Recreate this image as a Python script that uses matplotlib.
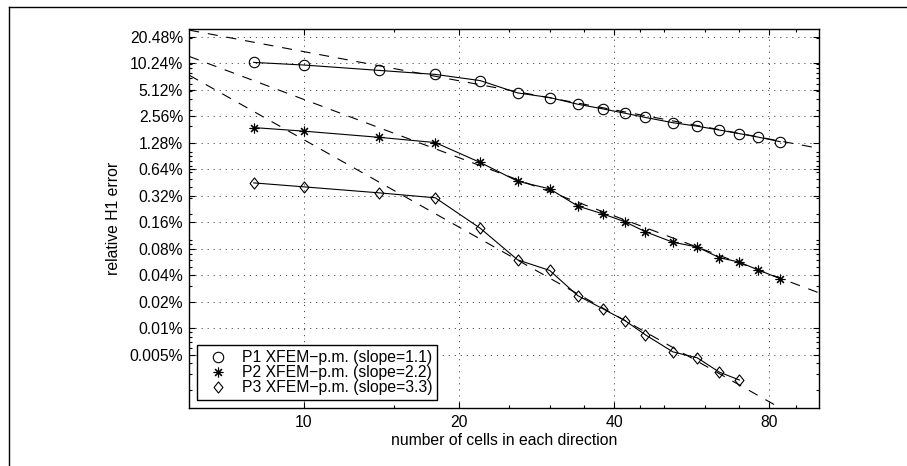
import numpy as np
import matplotlib
matplotlib.use("Agg")
import matplotlib.pyplot as plt
from matplotlib.lines import Line2D
from matplotlib.path import Path
from matplotlib.ticker import FixedLocator, FixedFormatter, NullFormatter

plt.rcParams["font.family"] = ["Liberation Sans", "DejaVu Sans"]
plt.rcParams["font.size"] = 11.3

# number of cells in each direction
cells = [8, 10, 14, 18, 22, 26, 30, 34, 38, 42, 46, 52, 58, 64, 70, 76, 84]
cells_p3 = cells[:15]

# relative H1 error (fractions)
err_p1 = [0.1051, 0.0982, 0.0853, 0.0768, 0.0653, 0.0473, 0.0419, 0.0352, 0.0312,
          0.0278, 0.0249, 0.0217, 0.0198, 0.0179, 0.0163, 0.0149, 0.0132]
err_p2 = [0.0191, 0.0174, 0.0148, 0.0129, 0.00766, 0.00469, 0.00384, 0.00245, 0.00200,
          0.00162, 0.00125, 0.000950, 0.000838, 0.000635, 0.000564, 0.000462, 0.000366]
err_p3 = [0.00449, 0.00405, 0.00346, 0.00304, 0.00137, 0.000599, 0.000454, 0.000235,
          0.000167, 0.000122, 0.0000842, 0.0000539, 0.0000461, 0.0000317, 0.0000258]

# fitted reference lines: err = coef * cells^(-slope)
slopes = [1.1, 2.2, 3.3]
coefs = [1.756, 6.33, 27.8]

labels = ["P1 XFEM\u2212p.m. (slope=1.1)",
          "P2 XFEM\u2212p.m. (slope=2.2)",
          "P3 XFEM\u2212p.m. (slope=3.3)"]

ytick_vals = [0.2048, 0.1024, 0.0512, 0.0256, 0.0128, 0.0064, 0.0032, 0.0016,
              0.0008, 0.0004, 0.0002, 0.0001, 0.00005]
ytick_labels = ["20.48%", "10.24%", "5.12%", "2.56%", "1.28%", "0.64%", "0.32%",
                "0.16%", "0.08%", "0.04%", "0.02%", "0.01%", "0.005%"]
xtick_vals = [10, 20, 40, 80]
xtick_labels = ["10", "20", "40", "80"]
xminor_vals = [15, 25, 30, 35, 45, 50, 60, 70, 90]

x_range = [6, 100]
y_range = [1.25e-5, 0.25]

diamond = Path([(0, 1), (0.8, 0), (0, -1), (-0.8, 0), (0, 1)],
               [Path.MOVETO, Path.LINETO, Path.LINETO, Path.LINETO, Path.CLOSEPOLY])
markers = ["o", (8, 2, 0), diamond]
msizes = [7.5, 7, 8]

fig = plt.figure(figsize=(9.07, 4.66), dpi=100)
ax = fig.add_axes([0.2087, 0.1251, 0.6946, 0.812])

xs = np.array(x_range, dtype=float)
for s, c in zip(slopes, coefs):
    ax.plot(xs, c * xs ** (-s), color="black", lw=0.8, linestyle=(0, (9, 8)), zorder=2)

series = [(cells, err_p1), (cells, err_p2), (cells_p3, err_p3)]
for (xv, yv), m, ms in zip(series, markers, msizes):
    ax.plot(xv, yv, color="black", lw=0.8, marker=m, markersize=ms,
            markerfacecolor="none", markeredgecolor="black", markeredgewidth=0.8, zorder=3)

ax.set_xscale("log")
ax.set_yscale("log")
ax.set_xlim(x_range)
ax.set_ylim(y_range)

ax.xaxis.set_major_locator(FixedLocator(xtick_vals))
ax.xaxis.set_major_formatter(FixedFormatter(xtick_labels))
ax.xaxis.set_minor_locator(FixedLocator(xminor_vals))
ax.xaxis.set_minor_formatter(NullFormatter())

ax.yaxis.set_major_locator(FixedLocator(ytick_vals))
ax.yaxis.set_major_formatter(FixedFormatter(ytick_labels))
yminor = [m * 10.0 ** e for e in range(-5, 0) for m in range(1, 10)]
ax.yaxis.set_minor_locator(FixedLocator(yminor))
ax.yaxis.set_minor_formatter(NullFormatter())

ax.tick_params(which="both", direction="in", top=True, right=True, width=0.8)
ax.tick_params(which="major", length=4.5, pad=5)
ax.tick_params(which="minor", length=2.5)
ax.tick_params(axis="y", which="major", pad=4.5)
for sp in ax.spines.values():
    sp.set_linewidth(1.0)

ax.grid(True, which="major", color="0.3", lw=0.7, linestyle=(0, (1.2, 5)))
ax.set_axisbelow(True)

ax.set_xlabel("number of cells in each direction", labelpad=2.5)
ax.set_ylabel("relative H1 error", labelpad=6)

handles = [Line2D([], [], linestyle="none", marker=m, markersize=ms, color="black",
                  markerfacecolor="none", markeredgewidth=0.8)
           for m, ms in zip(markers, msizes)]
leg = ax.legend(handles, labels, loc="lower left", fancybox=False, framealpha=1,
                edgecolor="black", borderpad=0.3, labelspacing=0.0, handlelength=2.1,
                handletextpad=0.45, borderaxespad=0.5, fontsize=11.3)
leg.get_frame().set_linewidth(1.0)
leg.set_zorder(5)

# outer frame of the figure (cut by the image on the right and bottom)
fig.add_artist(Line2D([8.5 / 907, 1.0], [1 - 6.5 / 466, 1 - 6.5 / 466],
                      color="black", lw=1.0, transform=fig.transFigure))
fig.add_artist(Line2D([8.5 / 907, 8.5 / 907], [0.0, 1 - 6.5 / 466],
                      color="black", lw=1.0, transform=fig.transFigure))

fig.savefig("out.png", dpi=100)
